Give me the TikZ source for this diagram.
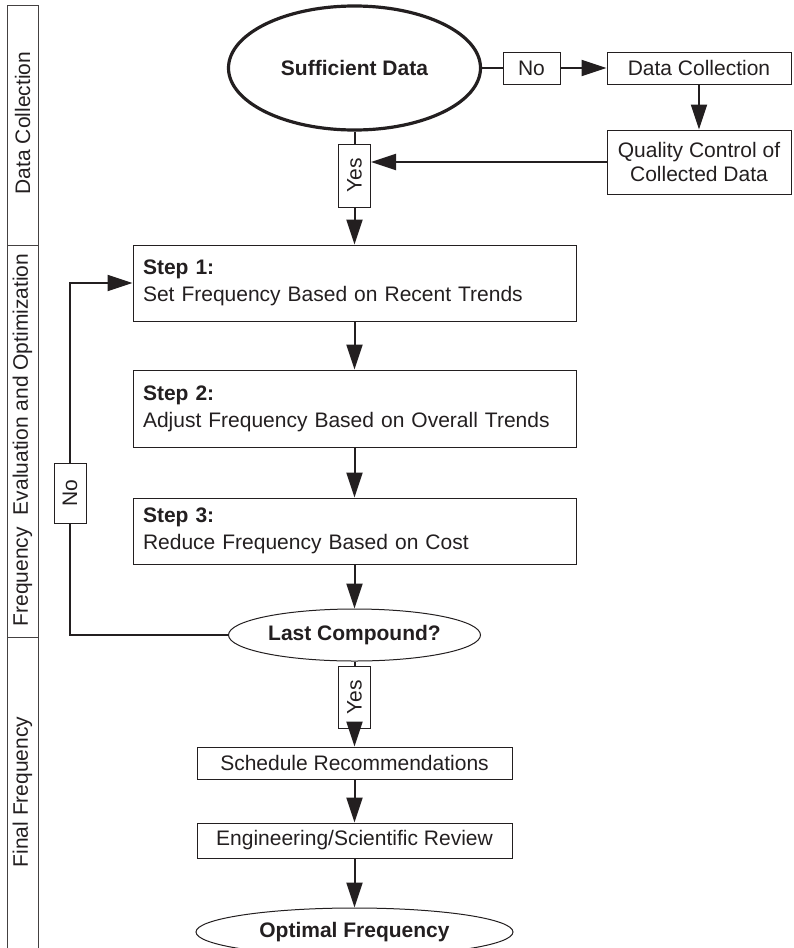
\documentclass[tikz,border=0pt]{standalone}
\usepackage{fontspec}
\usepackage{graphicx}
\setmainfont{Liberation Sans}
\usetikzlibrary{arrows.meta,shapes.geometric}
\definecolor{ink}{HTML}{231F20}
\begin{document}
\begin{tikzpicture}[x=0.5pt,y=-0.5pt,
  every node/.style={font=\fontsize{10.5}{13.5}\selectfont, text=ink, inner sep=0pt},
  box/.style={draw=ink, line width=0.5pt, rectangle},
  stepbox/.style={box, minimum width=221.5pt, text width=211.5pt, align=left, inner xsep=5pt},
  lbl/.style={box, minimum width=16pt},
  conn/.style={draw=ink, line width=1pt},
  arr/.style={conn, -{Triangle[length=12.5pt,width=8pt]}},
  lane/.style={draw=ink!85, line width=0.5pt},
  lanetext/.style={rotate=90},
]
\useasboundingbox (0,0) rectangle (793,948);

% swimlanes
\draw[lane] (7,948) -- (7,5) -- (38.5,5) -- (38.5,948);
\draw[lane] (7,245) -- (38.5,245);
\draw[lane] (7,637) -- (38.5,637);
\node[lanetext] (l1) at (22.5,123) {Data Collection};
\node[lanetext] (l2) at (22.5,440) {Frequency\hspace{0.3em} Evaluation and Optimization};
\node[lanetext] (l3) at (22.5,792) {Final Frequency};

% nodes
\node[ellipse, draw=ink, line width=1.6pt, minimum width=126pt, minimum height=62pt] (sd) at (354.5,68) {\textbf{Sufficient Data}};
\node[box, minimum width=28.5pt, minimum height=16pt] (no1) at (531.5,68) {No};
\node[box, minimum width=92pt, minimum height=16pt] (dc) at (699,68) {Data Collection};
\node[box, minimum width=92pt, minimum height=32pt, align=center, font=\fontsize{10.5}{12}\selectfont] (qc) at (699,162) {Quality Control of\\Collected Data};
\node[lbl, minimum height=31.5pt] (yes1) at (354.5,175.5) {\rotatebox{90}{Yes}};

\node[stepbox, minimum height=38pt] (s1) at (354.5,283) {\textbf{Step 1:}\\Set Frequency Based on Recent Trends};
\node[stepbox, minimum height=38.5pt] (s2) at (354.5,408.5) {\textbf{Step 2:}\\Adjust Frequency Based on Overall Trends};
\node[stepbox, minimum height=33pt] (s3) at (354.5,531) {\textbf{Step 3:}\\Reduce Frequency Based on Cost};

\node[ellipse, draw=ink, line width=0.5pt, minimum width=126pt, minimum height=26pt] (lc) at (354.5,635) {\textbf{Last Compound?}};
\node[lbl, minimum height=30pt] (no2) at (70,493) {\rotatebox{90}{No}};
\node[lbl, minimum height=31pt] (yes2) at (354.5,697) {\rotatebox{90}{Yes}};

\node[box, minimum width=157.5pt, minimum height=16pt] (sr) at (354.5,763) {Schedule Recommendations};
\node[box, minimum width=157.5pt, minimum height=17.5pt] (er) at (354.5,840.5) {Engineering/Scientific Review};
\node[ellipse, draw=ink, line width=0.5pt, minimum width=158.5pt, minimum height=24pt] (of) at (354.5,932) {\textbf{Optimal Frequency}};

% connectors
\draw[conn] (sd) -- (yes1);
\draw[arr] (yes1) -- (s1);
\draw[conn] (sd) -- (no1);
\draw[arr] (no1) -- (dc);
\draw[arr] (dc) -- (qc);
\draw[arr] (qc.west) -- (qc.west -| yes1.east);
\draw[arr] (s1) -- (s2);
\draw[arr] (s2) -- (s3);
\draw[arr] (s3) -- (lc);
\draw[conn] (lc.west) -| (no2.south);
\draw[arr] (no2.north) |- (s1.west);
\draw[conn] (lc) -- (yes2);
\draw[arr] (yes2) -- (sr);
\draw[arr] (sr) -- (er);
\draw[arr] (er) -- (of);
\end{tikzpicture}
\end{document}
